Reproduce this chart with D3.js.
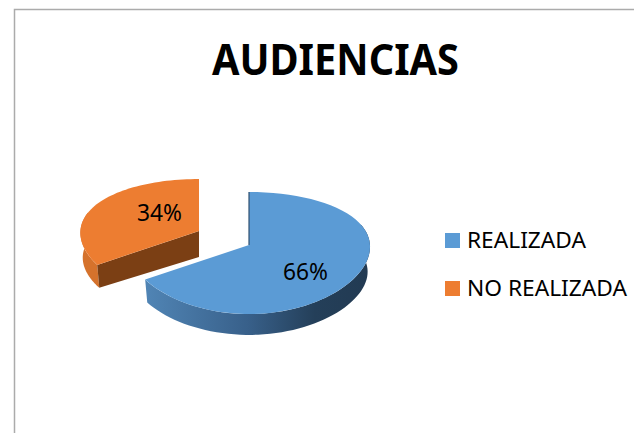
<!DOCTYPE html>
<html>
<head>
<meta charset="utf-8">
<script src="https://cdn.jsdelivr.net/npm/d3@7"></script>
<style>
  html, body { margin: 0; padding: 0; background: #fff; }
  svg { display: block; }
  text { font-family: "Noto Sans", sans-serif; fill: #000; }
</style>
</head>
<body>
<div id="chart"></div>
<script>
// datos
var chartTitle = "AUDIENCIAS";
var categories = ["REALIZADA", "NO REALIZADA"];
var values = [66, 34];
var colors = ["#5b9bd5", "#ed7d31"];

var width = 634, height = 433;
var svg = d3.select("#chart").append("svg").attr("width", width).attr("height", height);

// marco del grafico, se corta por la derecha y por abajo
svg.append("path")
  .attr("d", "M14.5,433V9.5H634")
  .attr("fill", "none")
  .attr("stroke", "#ababab")
  .attr("stroke-width", 1.5);

svg.append("text")
  .attr("x", 212).attr("y", 75)
  .attr("font-size", 43).attr("font-weight", 700)
  .attr("textLength", 247).attr("lengthAdjust", "spacingAndGlyphs")
  .text(chartTitle);

// "3D" a mano: disco con perspectiva, el disco de abajo un poco mas pequeno
var cx = 249, cy = 245, rx = 121, sy = 60, ky = 0.131, kx = 0.03;
var depth = 25, shrinkX = 0.98, shrinkY = 0.94;

function project(a, level, off, scale) {
  var s = -Math.cos(a), c = Math.sin(a);
  var fx = (level ? shrinkX : 1) * scale, fy = (level ? shrinkY : 1) * scale;
  return [
    cx + off[0] + fx * rx * c / (1 - kx * s),
    cy + off[1] + depth * level + fy * sy * s / (1 - ky * s)
  ];
}
function rim(a0, a1, level, off, scale) {
  var n = 60;
  return d3.range(n + 1).map(function(i) {
    return project(a0 + (a1 - a0) * i / n, level, off, scale);
  });
}
function apex(level, off) {
  return [cx + off[0], cy + off[1] + (level ? depth + 1 : 0)];
}

var line = d3.line();
var arcs = d3.pie().sort(null).startAngle(0).endAngle(2 * Math.PI)(values);

// gradiente del lado azul
var defs = svg.append("defs");
var grad = defs.append("linearGradient").attr("id", "blueSide")
  .attr("gradientUnits", "userSpaceOnUse")
  .attr("x1", 147).attr("x2", 371).attr("y1", 0).attr("y2", 0);
grad.append("stop").attr("offset", 0).attr("stop-color", "#5084b4");
grad.append("stop").attr("offset", 0.45).attr("stop-color", "#38608a");
grad.append("stop").attr("offset", 0.75).attr("stop-color", "#243f59");
grad.append("stop").attr("offset", 1).attr("stop-color", "#223a52");

// porcion naranja (separada del resto)
var offOrange = [-50, -14], offBlue = [0, 0], orangeScale = 0.98;
var o = arcs[1], b = arcs[0];

svg.append("path")
  .attr("d", line(rim(o.startAngle, o.startAngle + 0.9, 0, offOrange, orangeScale)
    .concat(rim(o.startAngle, o.startAngle + 0.9, 1, offOrange, orangeScale).reverse())) + "Z")
  .attr("fill", "#d5722c");
svg.append("path")
  .attr("d", line([apex(0, offOrange), project(o.startAngle, 0, offOrange, orangeScale),
    project(o.startAngle, 1, offOrange, orangeScale), apex(1, offOrange)]) + "Z")
  .attr("fill", "#7b3f14");
svg.append("path")
  .attr("d", line([apex(0, offOrange)].concat(rim(o.startAngle, o.endAngle, 0, offOrange, orangeScale))) + "Z")
  .attr("fill", colors[1]);

// porcion azul
svg.append("path")
  .attr("d", line(rim(1.2, b.endAngle, 0, offBlue, 1)
    .concat(rim(1.2, b.endAngle, 1, offBlue, 1).reverse())) + "Z")
  .attr("fill", "url(#blueSide)");
svg.append("path")
  .attr("d", line([apex(0, offBlue)].concat(rim(b.startAngle, b.endAngle, 0, offBlue, 1))) + "Z")
  .attr("fill", colors[0]);
svg.append("path")
  .attr("d", line([apex(0, offBlue), project(0, 0, offBlue, 1)]))
  .attr("stroke", "#2f5070").attr("stroke-width", 1.2).attr("fill", "none");

// etiquetas
var labelPos = [[305.5, 279.5], [159.5, 221]];
svg.selectAll("text.pct").data(values).enter().append("text")
  .attr("class", "pct")
  .attr("x", function(d, i) { return labelPos[i][0]; })
  .attr("y", function(d, i) { return labelPos[i][1]; })
  .attr("text-anchor", "middle")
  .attr("font-size", 23)
  .attr("textLength", 45)
  .attr("lengthAdjust", "spacingAndGlyphs")
  .text(function(d) { return d + "%"; });

// leyenda
var legendY = d3.scalePoint().domain(categories).range([233, 281]);
var legend = svg.selectAll("g.legend").data(categories).enter().append("g")
  .attr("class", "legend")
  .attr("transform", function(d) { return "translate(445," + legendY(d) + ")"; });
legend.append("rect")
  .attr("width", 15).attr("height", 15)
  .attr("fill", function(d, i) { return colors[i]; });
legend.append("text")
  .attr("x", 22).attr("y", 14.5)
  .attr("font-size", 21)
  .attr("textLength", function(d, i) { return i == 0 ? 119 : 160; })
  .attr("lengthAdjust", "spacingAndGlyphs")
  .text(function(d) { return d; });
</script>
</body>
</html>
